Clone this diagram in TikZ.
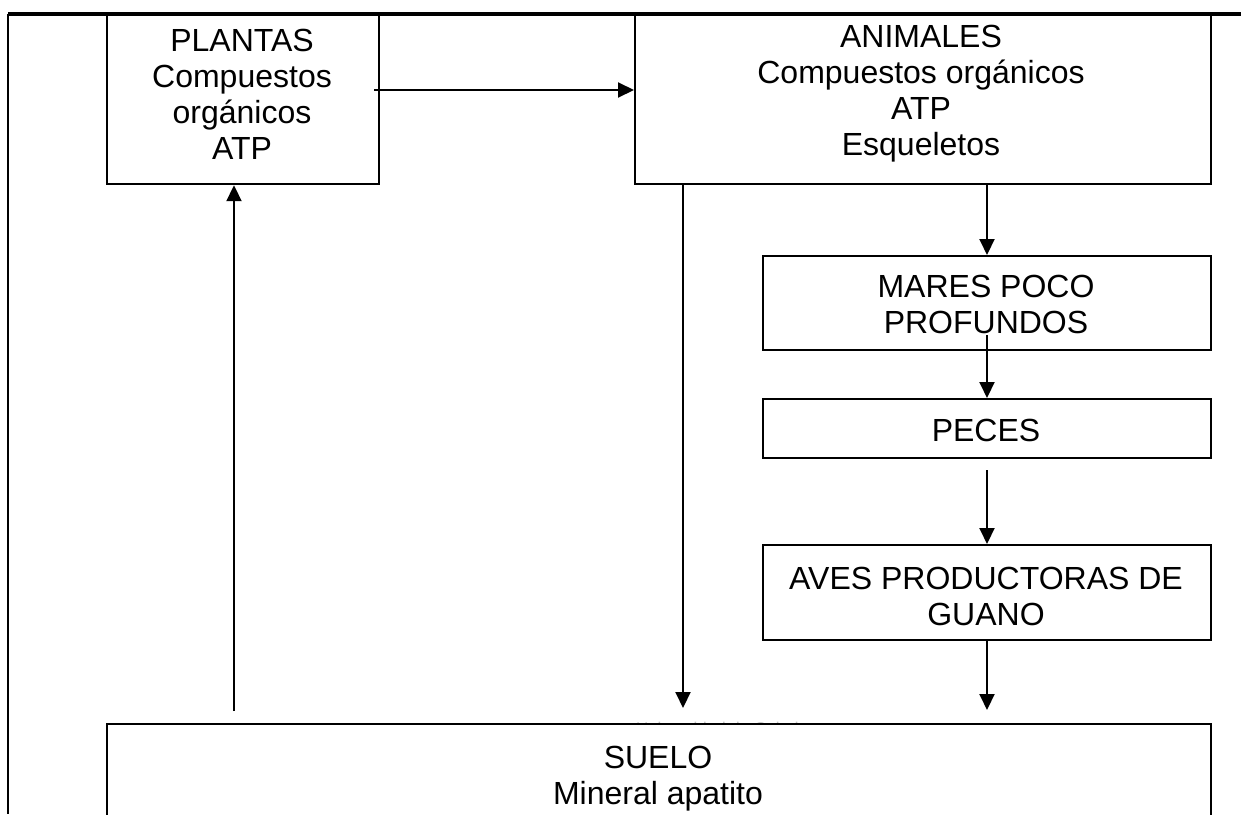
\documentclass[tikz,border=0pt]{standalone}
\usepackage{fontspec}
\setmainfont{Liberation Sans}
\usetikzlibrary{arrows.meta}
\begin{document}
\begin{tikzpicture}[x=1pt,y=-1pt,
  box/.style={draw,line width=2.2pt,fill=white,inner sep=0pt,anchor=north west},
  lbl/.style={align=center,inner sep=0pt,font=\fontsize{32}{36}\selectfont},
  arr/.style={line width=2pt,-{Triangle[length=16pt,width=15pt]}},
  ln/.style={line width=2.2pt}]
\useasboundingbox (0,0) rectangle (1241,814);
% watermark
\node[text=black!25,font=\fontsize{17}{20}\selectfont,inner sep=0pt] (wm) at (722,728) {Universidad de Oviedo};
% boxes
\node[box,minimum width=272pt,minimum height=169pt] (pl) at (106,14) {};
\node[box,minimum width=576pt,minimum height=169pt] (an) at (634,14) {};
\node[box,minimum width=448pt,minimum height=94pt] (ma) at (762,255) {};
\node[box,minimum width=448pt,minimum height=59pt] (pe) at (762,398) {};
\node[box,minimum width=448pt,minimum height=95pt] (av) at (762,544) {};
\node[box,minimum width=1104pt,minimum height=120pt] (su) at (106,723) {};
% frame
\coordinate (ftl) at (8,14);
\coordinate (ftr) at (1241,14);
\coordinate (fbl) at (8,814);
\draw[line width=3.2pt] (ftl) -- (ftr);
\draw[ln] (ftl) -- (fbl);
% texts
\node[lbl] (tpl) at (242,94) {PLANTAS\\Compuestos\\orgánicos\\ATP};
\node[lbl] (tan) at (921,94) {ANIMALES\\Compuestos orgánicos\\ATP\\Esqueletos};
\node[lbl] (tma) at (986,304) {MARES POCO\\PROFUNDOS};
\node[lbl] (tpe) at (986,430) {PECES};
\node[lbl] (tav) at (986,596) {AVES PRODUCTORAS DE\\GUANO};
\node[lbl] (tsu) at (658,779) {SUELO\\Mineral apatito};
% arrows
\coordinate (s1) at (374,90);
\draw[arr] (s1) -- (an.west |- s1);
\coordinate (c1) at (987,0);
\draw[arr] (an.south -| c1) -- (ma.north -| c1);
\coordinate (s2) at (987,335);
\draw[arr] (s2) -- (pe.north -| s2);
\coordinate (s3) at (987,470);
\draw[arr] (s3) -- (av.north -| s3);
\coordinate (e4) at (987,710);
\draw[arr] (av.south -| e4) -- (e4);
\coordinate (e5) at (683,708);
\draw[arr] (an.south -| e5) -- (e5);
\coordinate (s6) at (234,711);
\draw[arr] (s6) -- (pl.south -| s6);
\end{tikzpicture}
\end{document}
